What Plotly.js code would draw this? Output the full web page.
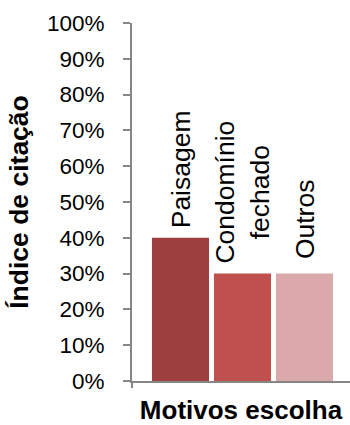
<!DOCTYPE html>
<html>
<head>
<meta charset="utf-8">
<script src="https://cdn.plot.ly/plotly-3.0.1.min.js"></script>
<style>html,body{margin:0;padding:0;background:#fff;}#chart{width:350px;height:425px;}</style>
</head>
<body>
<div id="chart"></div>
<script>
const categories = ["Paisagem", "Condomínio fechado", "Outros"];
const labels = ["Paisagem", "Condomínio<br>fechado", "Outros"];
const values = [0.40, 0.30, 0.30];
const colors = ["#9d3f3f", "#c0504d", "#dba9a9"];
const yTicks = [0, 0.1, 0.2, 0.3, 0.4, 0.5, 0.6, 0.7, 0.8, 0.9, 1.0];
const yTickText = ["0%", "10%", "20%", "30%", "40%", "50%", "60%", "70%", "80%", "90%", "100%"];

const font = "Liberation Sans, Arial, sans-serif";
const labelShifts = [8, 8, 13];

const trace = {
  type: "bar",
  x: categories,
  y: values,
  marker: {color: colors, line: {width: 0}},
  hoverinfo: "skip"
};

const annotations = categories.map((c, i) => ({
  x: c, y: values[i], xref: "x", yref: "y",
  text: labels[i], textangle: -90, showarrow: false,
  xanchor: "center", yanchor: "bottom", yshift: labelShifts[i], align: "center",
  font: {family: font, size: 26.5, color: "#000"}
}));

const layout = {
  width: 350, height: 425,
  margin: {l: 132, r: 0, t: 23, b: 44, pad: 0},
  paper_bgcolor: "#fff", plot_bgcolor: "#fff",
  showlegend: false,
  bargap: 0.08,
  xaxis: {
    type: "category",
    range: [-0.782, 2.734],
    showticklabels: false, ticks: "",
    showgrid: false, zeroline: false,
    showline: true, linecolor: "#868686", linewidth: 2,
    title: {text: "<b>Motivos escolha</b>", standoff: 22, font: {family: font, size: 26, color: "#000"}},
    automargin: false, fixedrange: true
  },
  yaxis: {
    range: [0, 1],
    tickvals: yTicks, ticktext: yTickText,
    ticks: "outside", ticklen: 7, tickwidth: 2, tickcolor: "#868686",
    ticklabelstandoff: 14,
    showgrid: false, zeroline: false,
    showline: true, linecolor: "#868686", linewidth: 2,
    tickfont: {family: font, size: 22.5, color: "#000"},
    title: {text: "<b>Índice de citação</b>", standoff: 11, font: {family: font, size: 26.5, color: "#000"}},
    automargin: false, fixedrange: true
  },
  shapes: [{
    type: "line", xref: "paper", yref: "paper",
    x0: 0, x1: 0, y0: 0, y1: -7/358,
    line: {color: "#868686", width: 2}
  }],
  annotations: annotations
};

Plotly.newPlot("chart", [trace], layout, {displayModeBar: false, staticPlot: true});
</script>
</body>
</html>
